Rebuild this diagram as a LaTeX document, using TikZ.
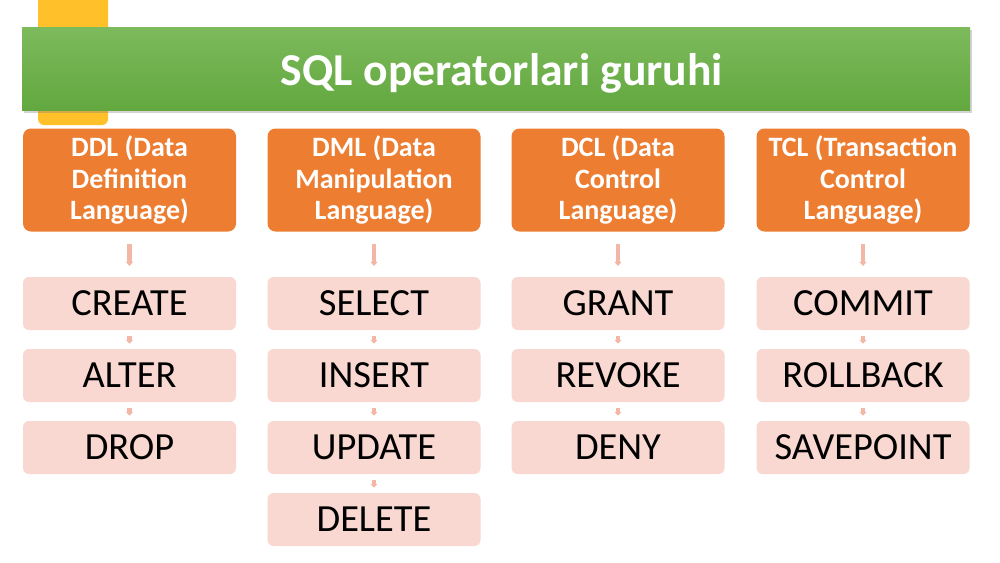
\documentclass[tikz,border=0pt]{standalone}
\usepackage{fontspec}
\setmainfont{Carlito}
\usetikzlibrary{arrows.meta,shadows}
\newlength\pxu
\setlength\pxu{0.9636pt}
\definecolor{bannertop}{HTML}{7DBA5C}
\definecolor{bannerbot}{HTML}{62A83F}
\definecolor{tabyellow}{HTML}{FFC02A}
\definecolor{headorange}{HTML}{ED7D31}
\definecolor{itempink}{HTML}{F8D8D0}
\definecolor{arrowpink}{HTML}{F3B7A8}
\tikzset{
  head/.style={
    fill=headorange, rounded corners=8\pxu,
    minimum width=213\pxu, minimum height=103\pxu, inner sep=0pt,
    text=white, align=center,
    font=\bfseries\fontsize{27}{30}\selectfont
  },
  item/.style={
    fill=itempink, rounded corners=6\pxu,
    minimum width=213\pxu, minimum height=53\pxu, inner sep=0pt,
    text=black, font=\fontsize{37}{40}\selectfont
  },
  link/.style={
    draw=arrowpink, line width=4.6pt
  },
  step link/.style={
    draw=arrowpink, line width=4.2pt
  }
}

\begin{document}
\begin{tikzpicture}[x=\pxu, y=-\pxu]
        \useasboundingbox (0,0) rectangle (1000,562);
        % yellow tab behind the banner
        \fill[tabyellow, rounded corners=6\pxu] (38,-10) rectangle (108,125);
        % banner
        \node[top color=bannertop, bottom color=bannerbot, minimum width=948\pxu,
              minimum height=83\pxu, inner sep=0pt,
              drop shadow={shadow xshift=2pt, shadow yshift=-2.5pt, opacity=.35}]
            (banner) at (496,68.5) {};
        \node[text=white, font=\bfseries\fontsize{44}{50}\selectfont]
            (title) at (502,73) {SQL operatorlari guruhi};

        \begin{scope}[every node/.style={item}]
            \node[head] (ddl) at (129.5,180) {DDL (Data\\Definition\\Language)};
            \node[head] (dml) at (374,180) {DML (Data\\Manipulation\\Language)};
            \node[head] (dcl) at (618,180) {DCL (Data\\Control\\Language)};
            \node[head] (tcl) at (863,180) {TCL (Transaction\\Control\\Language)};

            \node (create) at (129.5,303.5) {CREATE};
            \node (alter)  at (129.5,375.5) {ALTER};
            \node (drop)   at (129.5,447.5) {DROP};

            \node (select) at (374,303.5) {SELECT};
            \node (insert) at (374,375.5) {INSERT};
            \node (update) at (374,447.5) {UPDATE};
            \node (delete) at (374,519.5) {DELETE};

            \node (grant)  at (618,303.5) {GRANT};
            \node (revoke) at (618,375.5) {REVOKE};
            \node (deny)   at (618,447.5) {DENY};

            \node (commit)    at (863,303.5) {COMMIT};
            \node (rollback)  at (863,375.5) {ROLLBACK};
            \node (savepoint) at (863,447.5) {SAVEPOINT};
        \end{scope}

        \begin{scope}[>={Triangle[length=4pt, width=7pt, fill=arrowpink]},
                      every edge/.style={link, shorten <=11.5pt, shorten >=10.5pt}]
            \path [->] (ddl) edge (create);
            \path [->] (dml) edge (select);
            \path [->] (dcl) edge (grant);
            \path [->] (tcl) edge (commit);
        \end{scope}

        \begin{scope}[>={Triangle[length=3.5pt, width=6.5pt, fill=arrowpink]},
                      every edge/.style={step link, shorten <=5.5pt, shorten >=5pt}]
            \path [->] (create) edge (alter);
            \path [->] (alter) edge (drop);

            \path [->] (select) edge (insert);
            \path [->] (insert) edge (update);
            \path [->] (update) edge (delete);

            \path [->] (grant) edge (revoke);
            \path [->] (revoke) edge (deny);

            \path [->] (commit) edge (rollback);
            \path [->] (rollback) edge (savepoint);
        \end{scope}
    \end{tikzpicture}
\end{document}
